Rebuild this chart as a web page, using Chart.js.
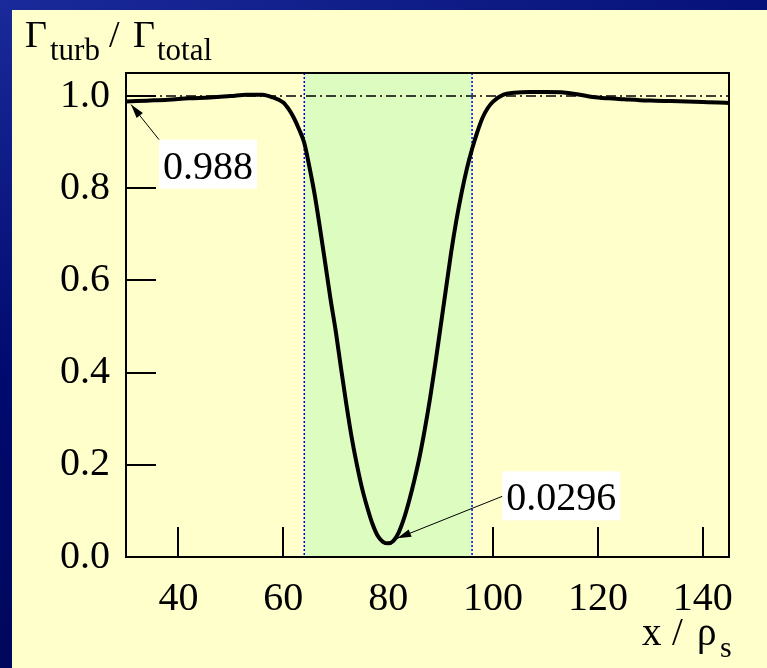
<!DOCTYPE html>
<html>
<head>
<meta charset="utf-8">
<script src="https://cdn.jsdelivr.net/npm/chart.js@4.4.0/dist/chart.umd.min.js"></script>
<style>
  body { margin: 0; width: 767px; height: 668px; overflow: hidden;
         background: linear-gradient(160deg, #1a2a9a 0%, #000a6e 40%, #00064a 100%); }
  #panel { position: absolute; left: 12px; top: 10px; width: 755px; height: 658px; background: #ffffcc; }
</style>
</head>
<body>
<div id="panel"><canvas id="myChart" width="755" height="658"></canvas></div>
<script>
// ------- DATA -------
const xValues = [30, 34, 38, 42, 46, 50, 53, 56, 58, 60, 61, 62, 63, 64, 65, 66, 67, 68, 69, 70,
                 71, 72, 73, 74, 75, 76, 77, 78, 79, 80, 81, 82, 83, 84, 85, 86, 87, 88, 89, 90,
                 91, 92, 93, 94, 95, 96, 97, 98, 99, 100, 102, 104, 107, 110, 113, 116, 119, 122,
                 125, 128, 131, 134, 137, 140, 143, 145];
const ratio = [0.988, 0.990, 0.992, 0.995, 0.997, 1.000, 1.003, 1.003, 0.997, 0.986, 0.972, 0.953, 0.928, 0.898, 0.845, 0.785, 0.713, 0.637, 0.560, 0.490,
               0.410, 0.333, 0.262, 0.202, 0.150, 0.108, 0.072, 0.046, 0.033, 0.0296, 0.035, 0.053, 0.083, 0.122, 0.167, 0.218, 0.278, 0.345, 0.420, 0.500,
               0.580, 0.660, 0.730, 0.790, 0.842, 0.885, 0.922, 0.953, 0.974, 0.988, 1.003, 1.007, 1.009, 1.009, 1.008, 1.004, 0.998, 0.995,
               0.993, 0.991, 0.990, 0.989, 0.988, 0.987, 0.986, 0.985];
const refLevel = 1.0;
const band = [64, 96];
const xTicks = [40, 60, 80, 100, 120, 140];
const yTicks = [0, 0.2, 0.4, 0.6, 0.8, 1.0];
const xRange = [30, 145];
const yRange = [0, 1.05];
// labelled points: [x, y, text]
const notes = [[30, 0.988, '0.988'], [80, 0.0296, '0.0296']];

const SERIF = '"Liberation Serif", "Times New Roman", serif';

// draw frame, inward ticks, band, annotations and titles
const decor = {
  id: 'decor',
  beforeDatasetsDraw(chart) {
    const ctx = chart.ctx, a = chart.chartArea;
    const xs = chart.scales.x, ys = chart.scales.y;
    ctx.save();
    // inward ticks
    ctx.strokeStyle = '#000';
    ctx.lineWidth = 2;
    xTicks.forEach(v => {
      const px = Math.round(xs.getPixelForValue(v));
      ctx.beginPath(); ctx.moveTo(px, a.bottom); ctx.lineTo(px, a.bottom - 30); ctx.stroke();
    });
    yTicks.forEach(v => {
      const py = Math.round(ys.getPixelForValue(v));
      ctx.beginPath(); ctx.moveTo(a.left, py); ctx.lineTo(a.left + 30, py); ctx.stroke();
    });
    // green band
    const b0 = xs.getPixelForValue(band[0]), b1 = xs.getPixelForValue(band[1]);
    ctx.fillStyle = '#ddfcc0';
    ctx.fillRect(b0, a.top, b1 - b0, a.bottom - a.top);
    ctx.strokeStyle = '#0000ff';
    ctx.lineWidth = 1.5;
    ctx.setLineDash([2, 2]);
    [b0, b1].forEach(px => {
      ctx.beginPath(); ctx.moveTo(px, a.top); ctx.lineTo(px, a.bottom); ctx.stroke();
    });
    ctx.restore();
  },
  afterDatasetsDraw(chart) {
    const ctx = chart.ctx, a = chart.chartArea;
    const xs = chart.scales.x, ys = chart.scales.y;
    ctx.save();
    // frame
    ctx.strokeStyle = '#000';
    ctx.lineWidth = 2;
    ctx.strokeRect(a.left, a.top, a.right - a.left, a.bottom - a.top);

    // annotations
    const boxOffsets = [[33, 38], [114, -72]];
    const tipOffsets = [[5, 3], [9, -5]];
    const startCorner = [[0, 0], [0, 25]];
    ctx.font = '40px ' + SERIF;
    ctx.textBaseline = 'alphabetic';
    notes.forEach((n, i) => {
      const px = xs.getPixelForValue(n[0]), py = ys.getPixelForValue(n[1]);
      const w = ctx.measureText(n[2]).width + 8, h = 49;
      const bx = px + boxOffsets[i][0], by = py + boxOffsets[i][1];
      ctx.fillStyle = '#fff';
      ctx.fillRect(bx, by, w, h);
      ctx.fillStyle = '#000';
      ctx.fillText(n[2], bx + 4, by + 39);
      // arrow
      const sx = bx + startCorner[i][0], sy = by + startCorner[i][1];
      const tx = px + tipOffsets[i][0], ty = py + tipOffsets[i][1];
      ctx.strokeStyle = '#000';
      ctx.lineWidth = 1;
      ctx.beginPath(); ctx.moveTo(sx, sy); ctx.lineTo(tx, ty); ctx.stroke();
      const ang = Math.atan2(ty - sy, tx - sx);
      ctx.beginPath();
      ctx.moveTo(tx, ty);
      ctx.lineTo(tx - 14 * Math.cos(ang) + 4 * Math.sin(ang), ty - 14 * Math.sin(ang) - 4 * Math.cos(ang));
      ctx.lineTo(tx - 14 * Math.cos(ang) - 4 * Math.sin(ang), ty - 14 * Math.sin(ang) + 4 * Math.cos(ang));
      ctx.closePath();
      ctx.fill();
    });

    // y title: Γturb / Γtotal
    ctx.fillStyle = '#000';
    ctx.font = '38px ' + SERIF;
    ctx.fillText('Γ', 13, 37);
    ctx.fillText('/', 97, 37);
    ctx.fillText('Γ', 121, 37);
    ctx.font = '31px ' + SERIF;
    ctx.fillText('turb', 38, 50);
    ctx.fillText('total', 145, 50);

    // x title: x / ρs
    ctx.font = '39px ' + SERIF;
    ctx.fillText('x', 630, 635);
    ctx.fillText('/', 660, 635);
    ctx.fillText('ρ', 685, 635);
    ctx.font = '30px ' + SERIF;
    ctx.fillText('s', 708, 647);
    ctx.restore();
  }
};

const config = {
  type: 'line',
  data: {
    datasets: [{
      data: xValues.map((x, i) => ({ x: x, y: ratio[i] })),
      borderColor: '#000',
      borderWidth: 4,
      pointRadius: 0,
      cubicInterpolationMode: 'monotone',
      fill: false
    }, {
      data: [{ x: xRange[0], y: refLevel }, { x: xRange[1], y: refLevel }],
      borderColor: '#000',
      borderWidth: 1.5,
      borderDash: [10, 4, 2, 4],
      pointRadius: 0,
      fill: false
    }]
  },
  options: {
    responsive: false,
    animation: false,
    events: [],
    layout: { padding: { top: 63, right: 38, left: 0, bottom: 0 } },
    plugins: { legend: { display: false }, tooltip: { enabled: false } },
    scales: {
      x: {
        type: 'linear',
        min: xRange[0],
        max: xRange[1],
        afterBuildTicks: s => { s.ticks = xTicks.map(v => ({ value: v })); },
        afterFit: s => { s.height = 111; },
        grid: { display: false, drawTicks: false },
        border: { display: false },
        ticks: { font: { family: SERIF, size: 40 }, color: '#000', padding: 18, maxRotation: 0, autoSkip: false }
      },
      y: {
        min: yRange[0],
        max: yRange[1],
        afterBuildTicks: s => { s.ticks = yTicks.map(v => ({ value: v })); },
        afterFit: s => { s.width = 114; },
        grid: { display: false, drawTicks: false },
        border: { display: false },
        ticks: { font: { family: SERIF, size: 40 }, color: '#000', padding: 16,
                 callback: v => v.toFixed(1) }
      }
    }
  },
  plugins: [decor]
};

const myChart = new Chart(document.getElementById('myChart'), config);
</script>
</body>
</html>
